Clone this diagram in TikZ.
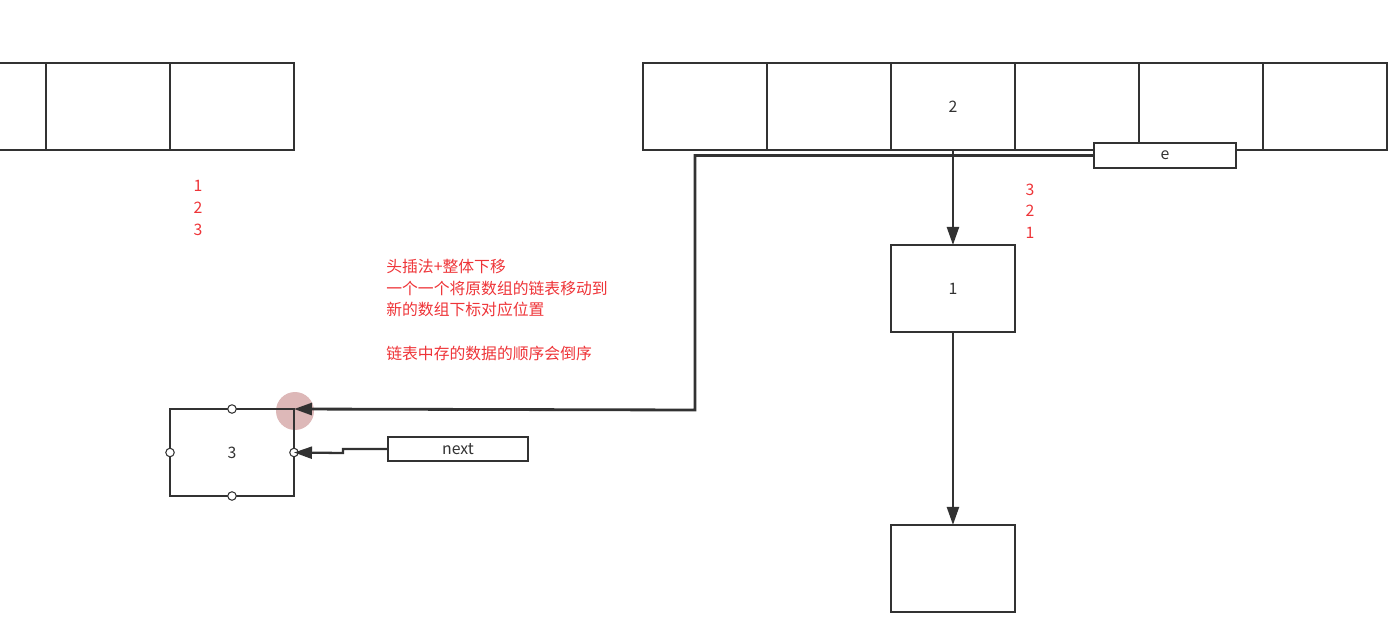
\documentclass[tikz,border=0pt]{standalone}
\usepackage{fontspec}
\setmainfont{Noto Sans CJK SC}
\usetikzlibrary{arrows.meta, positioning, calc}
\definecolor{LineGrey}{RGB}{50, 50, 50}
\definecolor{NoteRed}{RGB}{238, 52, 56}
\definecolor{HaloPink}{RGB}{210, 160, 160}

\begin{document}
\begin{tikzpicture}[
        x = 0.02cm, y = -0.02cm,
        cell/.style = {draw = LineGrey, line width = 1.3pt, minimum width = 2.48cm, minimum height = 1.74cm, inner sep = 0pt, outer sep = 0pt, font = \fontsize{9}{11}\selectfont, text = LineGrey},
        tag/.style = {draw = LineGrey, fill = white, line width = 1.3pt, minimum height = 0.49cm, inner sep = 0pt, outer sep = 0pt, font = \fontsize{9}{11}\selectfont, text = LineGrey},
        dot/.style = {circle, draw = LineGrey, fill = white, line width = 0.6pt, inner sep = 0pt, minimum size = 0.17cm},
        note/.style = {text = NoteRed, font = \fontsize{9}{12.3}\selectfont, inner sep = 0pt},
        arr/.style = {-{Triangle[length = 3.6mm, width = 2.4mm]}, line width = 1.3pt, LineGrey}
    ]
        \useasboundingbox (0, 0) rectangle (1399, 635);
        \clip (0, 0) rectangle (1399, 635);

        \fill[HaloPink, fill opacity = 0.75] (295, 411) circle (0.38cm);

        % old table
        \node[cell] (l1) at (-16, 106.5) {};
        \node[cell, right = 0pt of l1] (l2) {};
        \node[cell, right = 0pt of l2] (l3) {};

        \node[note, align = center] (ordA) at (198, 208) {1\\2\\3};

        % new table
        \node[cell] (r1) at (705, 106.5) {};
        \node[cell, right = 0pt of r1] (r2) {};
        \node[cell, right = 0pt of r2] (r3) {2};
        \node[cell, right = 0pt of r3] (r4) {};
        \node[cell, right = 0pt of r4] (r5) {};
        \node[cell, right = 0pt of r5] (r6) {};

        \node[cell, below = 1.9cm of r3] (n1) {1};
        \node[cell, below = 3.86cm of n1] (n2) {};

        \draw[arr] (r3.south) -- (n1.north);
        \draw[arr] (n1.south) -- (n2.north);

        \node[note, align = center] (ordB) at (1030, 211) {3\\2\\1};

        \node[tag, minimum width = 2.84cm] (e) at (1165, 155.5) {e};

        % moved entry
        \node[cell] (n3) at (232, 452.5) {3};
        \node[dot] at (n3.north) {};
        \node[dot] at (n3.south) {};
        \node[dot] at (n3.west) {};
        \node[dot] at (n3.east) {};

        \node[tag, minimum width = 2.8cm] (nx) at (458, 449) {next};

        \coordinate (turn) at (695, 410);
        \coordinate (jog) at (343, 453);
        \draw[arr, line width = 1.6pt] (e.west) -| (turn) -- (n3.north east);
        \draw[arr] (nx.west) -- (nx.west -| jog) -- (jog) -- (n3.east);

        \node[note, align = left, anchor = north west] (txt) at (386, 259) {
            头插法+整体下移
            \\
            一个一个将原数组的链表移动到
            \\
            新的数组下标对应位置
            \\[12.3pt]
            链表中存的数据的顺序会倒序
        };
    \end{tikzpicture}
\end{document}
